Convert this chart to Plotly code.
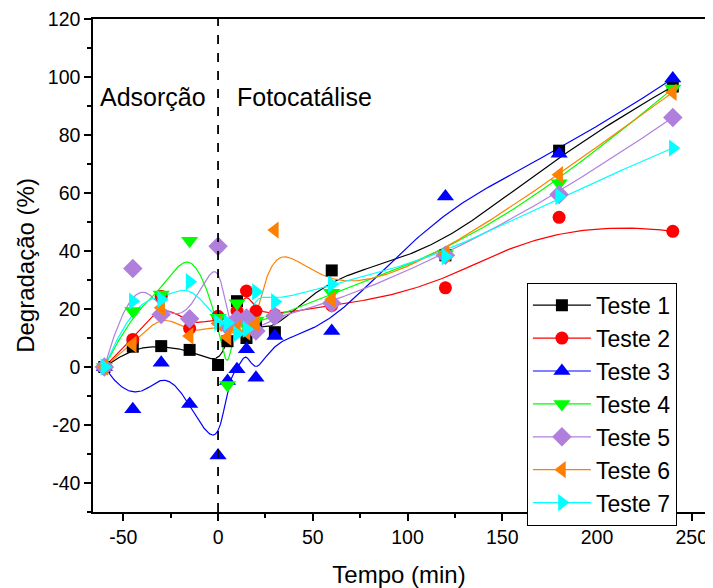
import numpy as np
import plotly.graph_objects as go

# ---------------- data ----------------
tempo = [-60, -45, -30, -15, 0, 5, 10, 15, 20, 30, 60, 120, 180, 240]
teste1 = [0, 7.0, 7.2, 5.9, 0.7, 8.9, 22.7, 10.0, 15.0, 12.0, 33.3, 38.5, 74.6, 96.7]
teste2 = [0, 9.5, 24.4, 13.3, 17.5, 14.0, 19.3, 26.2, 19.3, 18.0, 21.2, 27.3, 51.6, 46.8]
teste3 = [0, -14.6, 1.5, -12.8, -30.5, -4.8, -0.8, 6.1, -3.7, 10.7, 12.4, 58.8, 73.5, 99.5]
teste4 = [0, 19.3, 25.0, 43.5, 17.0, -6.2, 22.0, 14.0, 16.0, 17.0, 25.6, 39.0, 63.4, 96.0]
teste5 = [0, 34.0, 18.1, 16.6, 41.6, 14.0, 16.5, 16.9, 12.4, 17.5, 22.0, 38.5, 59.5, 86.0]
teste6 = [0, 7.8, 20.4, 10.7, 15.0, 10.3, 13.2, 12.0, 14.8, 47.2, 23.3, 39.0, 66.3, 94.7]
teste7 = [0, 22.7, 23.3, 29.4, 15.3, 15.3, 11.4, 13.0, 25.9, 22.5, 28.5, 38.1, 58.8, 75.5]

nomes = ["Teste 1", "Teste 2", "Teste 3", "Teste 4", "Teste 5", "Teste 6", "Teste 7"]
series = [teste1, teste2, teste3, teste4, teste5, teste6, teste7]
cores = ["#000000", "#FF0000", "#0000FF", "#00FF00", "#B07FDC", "#FF8000", "#00FFFF"]
simbolos = ["square", "circle", "triangle-up", "triangle-down", "diamond",
            "triangle-left", "triangle-right"]
tamanhos = [12, 13, 15, 15, 15, 15, 15]

x_ticks = [-50, 0, 50, 100, 150, 200, 250]
x_labels = ["-50", "0", "50", "100", "150", "200", "250"]
y_ticks = [-40, -20, 0, 20, 40, 60, 80, 100, 120]
y_labels = ["-40", "-20", "0", "20", "40", "60", "80", "100", "120"]

FONT = "Liberation Sans, Arial, sans-serif"


def bspline(xs, ys, k=3, n=600):
    """Clamped uniform cubic B-spline using the data points as control points."""
    P = np.column_stack([xs, ys]).astype(float)
    m = len(P)
    knots = np.concatenate([np.zeros(k), np.arange(m - k + 1), np.full(k, m - k)]).astype(float)
    t = np.linspace(0, m - k, n)
    nb = len(knots) - 1
    N = np.zeros((n, nb))
    for i in range(nb):
        N[:, i] = ((knots[i] <= t) & (t < knots[i + 1])).astype(float)
    last = np.where(knots[:-1] < knots[1:])[0][-1]
    N[t >= knots[-1], last] = 1.0
    for d in range(1, k + 1):
        Nn = np.zeros((n, nb - d))
        for i in range(nb - d):
            a = knots[i + d] - knots[i]
            b = knots[i + d + 1] - knots[i + 1]
            term = np.zeros(n)
            if a > 0:
                term += (t - knots[i]) / a * N[:, i]
            if b > 0:
                term += (knots[i + d + 1] - t) / b * N[:, i + 1]
            Nn[:, i] = term
        N = Nn
    C = N @ P
    return C[:, 0], C[:, 1]


fig = go.Figure()

for nome, ys, cor in zip(nomes, series, cores):
    cx, cy = bspline(tempo, ys)
    fig.add_trace(go.Scatter(x=cx, y=cy, mode="lines", line=dict(color=cor, width=1.2),
                             showlegend=False, hoverinfo="skip", legendgroup=nome))

for nome, ys, cor, sym, sz in zip(nomes, series, cores, simbolos, tamanhos):
    fig.add_trace(go.Scatter(x=tempo, y=ys, mode="markers",
                             marker=dict(symbol=sym, color=cor, size=sz, line=dict(width=0)),
                             showlegend=False, legendgroup=nome, name=nome))

# legend entries (line + marker)
for nome, cor, sym, sz in zip(nomes, cores, simbolos, tamanhos):
    fig.add_trace(go.Scatter(x=[None], y=[None], mode="lines+markers", name=nome,
                             line=dict(color=cor, width=1.2),
                             marker=dict(symbol=sym, color=cor, size=sz, line=dict(width=0)),
                             legendgroup=nome))

fig.add_vline(x=0, line=dict(color="black", width=1.8, dash="dash"))

fig.add_annotation(x=-5.3, y=93, text="Adsorção", showarrow=False, xanchor="right",
                   font=dict(family=FONT, size=25, color="black"))
fig.add_annotation(x=8.9, y=93, text="Fotocatálise", showarrow=False, xanchor="left",
                   font=dict(family=FONT, size=25, color="black"))

axis_common = dict(showgrid=False, zeroline=False, showline=True, linecolor="black",
                   linewidth=1.5, mirror=True, ticks="outside", ticklen=7, tickwidth=1.5,
                   tickcolor="black", automargin=False, ticklabeloverflow="allow",
                   tickfont=dict(family=FONT, size=19.5, color="black"),
                   title_font=dict(family=FONT, size=24, color="black"))

fig.update_xaxes(range=[-66, 257], tickvals=x_ticks, ticktext=x_labels,
                 title_text="Tempo (min)",
                 minor=dict(dtick=25, tick0=0, ticks="outside", ticklen=4, tickwidth=1.5,
                            tickcolor="black"),
                 title_standoff=19, **axis_common)
fig.update_yaxes(range=[-50, 120], tickvals=y_ticks, ticktext=y_labels,
                 title_text="Degradação (%)",
                 minor=dict(dtick=10, tick0=0, ticks="outside", ticklen=4, tickwidth=1.5,
                            tickcolor="black"),
                 title_standoff=6, **axis_common)

# the page adds an 8 px body margin, so the figure is 8 px smaller and margins shifted
fig.update_layout(
    width=705, height=580,
    margin=dict(l=85, r=8, t=11, b=76),
    plot_bgcolor="white", paper_bgcolor="white",
    font=dict(family=FONT, color="black"),
    legend=dict(x=0.709, y=0.465, xanchor="left", yanchor="top",
                bordercolor="black", borderwidth=1, bgcolor="white",
                font=dict(family=FONT, size=23, color="black"),
                traceorder="grouped", tracegroupgap=0, itemwidth=58),
)

fig.write_html("out.html")
